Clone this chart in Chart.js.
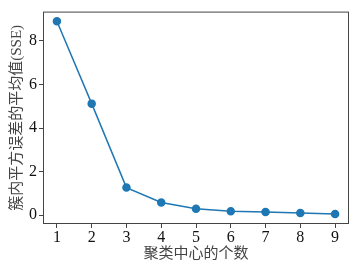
<!DOCTYPE html>
<html>
<head>
<meta charset="utf-8">
<script src="https://cdn.jsdelivr.net/npm/chart.js@4/dist/chart.umd.min.js"></script>
<style>
  html, body { margin: 0; padding: 0; background: #fff; }
  #wrap { width: 354px; height: 266px; }
</style>
</head>
<body>
<div id="wrap"><canvas id="myChart"></canvas></div>
<script>
// number of cluster centres vs SSE
const clusterCounts = [1, 2, 3, 4, 5, 6, 7, 8, 9];
const sseValues = [8.9, 5.12, 1.27, 0.59, 0.30, 0.19, 0.15, 0.10, 0.06];
const yTicks = [0, 2, 4, 6, 8];
const xTitle = '聚类中心的个数';
const yTitle = '簇内平方误差的平均值(SSE)';

const lineColor = '#1f77b4';
const fontFamily = "'Liberation Serif', 'Noto Sans CJK SC', serif";

// box round the plot like matplotlib
const frame = {
  id: 'frame',
  afterDraw(chart) {
    const a = chart.chartArea;
    const ctx = chart.ctx;
    ctx.save();
    ctx.strokeStyle = '#444';
    ctx.lineWidth = 1;
    ctx.strokeRect(a.left + 0.5, a.top + 0.5, a.right - a.left - 1, a.bottom - a.top - 1);
    ctx.restore();
  }
};

const points = clusterCounts.map((x, i) => ({x: x, y: sseValues[i]}));

const config = {
  type: 'line',
  data: {
    datasets: [{
      data: points,
      borderColor: lineColor,
      backgroundColor: lineColor,
      borderWidth: 1.5,
      pointRadius: 3.5,
      pointHoverRadius: 3.5,
      tension: 0
    }]
  },
  options: {
    responsive: false,
    animation: false,
    devicePixelRatio: 1,
    layout: { padding: { top: 5, right: 4, left: 0, bottom: 0 } },
    plugins: { legend: { display: false }, tooltip: { enabled: false } },
    scales: {
      x: {
        type: 'linear',
        min: 0.6,
        max: 9.4,
        afterBuildTicks: s => { s.ticks = clusterCounts.map(v => ({value: v})); },
        afterFit: s => { s.height = 42; },
        grid: { drawOnChartArea: false, tickLength: 4, tickColor: '#444', color: '#444' },
        border: { display: false },
        ticks: { color: '#111', font: { family: fontFamily, size: 16 }, padding: 0, maxRotation: 0 },
        title: { display: true, text: xTitle, color: '#444', font: { family: fontFamily, size: 15 }, padding: { top: 0, bottom: 3 } }
      },
      y: {
        min: -0.4,
        max: 9.34,
        afterBuildTicks: s => { s.ticks = yTicks.map(v => ({value: v})); },
        afterFit: s => { s.width = 43; },
        grid: { drawOnChartArea: false, tickLength: 4, tickColor: '#444', color: '#444' },
        border: { display: false },
        ticks: { color: '#111', font: { family: fontFamily, size: 16 }, padding: 2 },
        title: { display: true, text: yTitle, color: '#444', font: { family: fontFamily, size: 15 }, padding: { top: 8, bottom: 0 } }
      }
    }
  },
  plugins: [frame]
};

const canvas = document.getElementById('myChart');
canvas.width = 354;
canvas.height = 266;
new Chart(canvas, config);
</script>
</body>
</html>
